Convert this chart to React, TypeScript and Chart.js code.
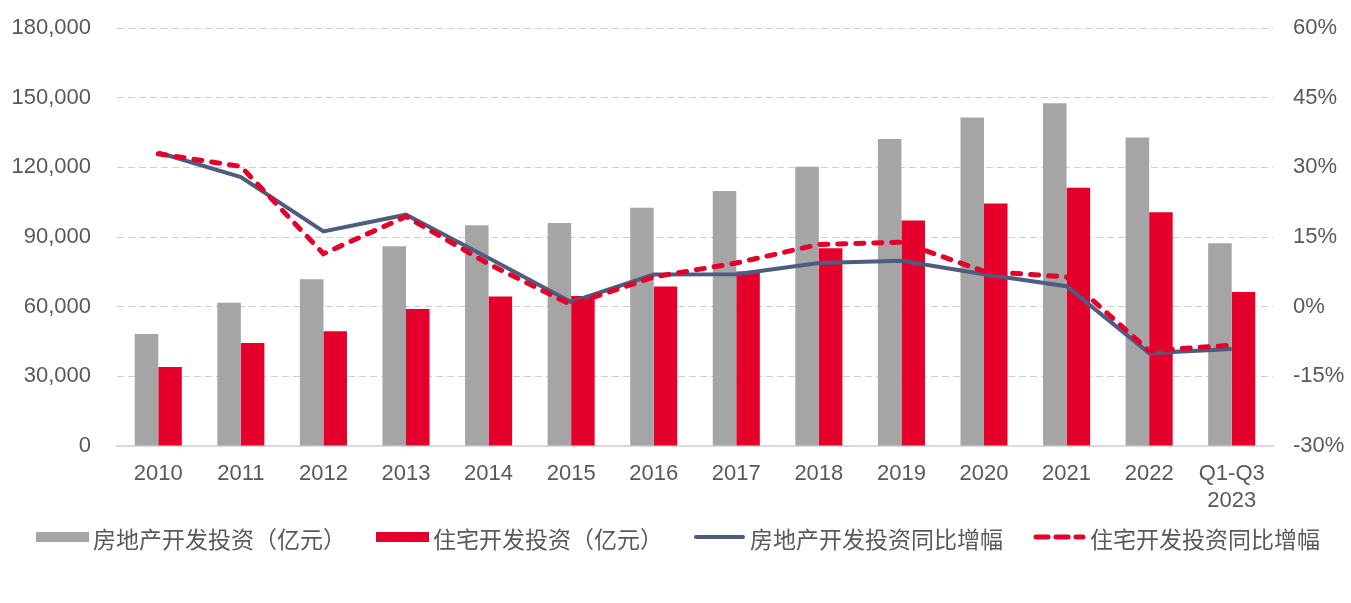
import React, { useEffect, useRef } from "react";
import { Chart, registerables } from "chart.js";

Chart.register(...registerables);

const categories: (string | string[])[] = [
  "2010", "2011", "2012", "2013", "2014", "2015", "2016",
  "2017", "2018", "2019", "2020", "2021", "2022", ["Q1-Q3", "2023"],
];

const realEstateInvestment = [
  48259, 61740, 71804, 86013, 95036, 95979, 102581,
  109799, 120264, 132194, 141443, 147602, 132895, 87269,
];

const residentialInvestment = [
  34038, 44308, 49374, 58951, 64352, 64595, 68704,
  75148, 85192, 97071, 104446, 111173, 100646, 66279,
];

const realEstateGrowth = [
  33.2, 27.9, 16.2, 19.8, 10.5, 1.0, 6.9,
  7.0, 9.4, 9.9, 7.0, 4.4, -10.0, -9.1,
];

const residentialGrowth = [
  32.9, 30.2, 11.4, 19.4, 9.2, 0.4, 6.4,
  9.4, 13.4, 13.9, 7.6, 6.4, -9.5, -8.3,
];

const seriesNames = [
  "房地产开发投资（亿元）",
  "住宅开发投资（亿元）",
  "房地产开发投资同比增幅",
  "住宅开发投资同比增幅",
];

const leftAxis = { min: 0, max: 180000, step: 30000 };
const rightAxis = { min: -30, max: 60, step: 15 };

const GRAY = "#A5A5A5";
const RED = "#E4002B";
const NAVY = "#4E5D7E";
const TEXT = "#595959";
const LATIN = '"Liberation Sans", Arial, sans-serif';
const CJK = '"Noto Sans CJK SC", "Liberation Sans", sans-serif';

const legendPlugin = {
  id: "customLegend",
  afterDraw(chart: any) {
    const ctx = chart.ctx as CanvasRenderingContext2D;
    ctx.save();
    ctx.font = `23px ${CJK}`;
    ctx.textBaseline = "middle";
    ctx.textAlign = "left";
    const cy = 537;
    const boxW = 53;
    let x = 36;
    chart.data.datasets.forEach((ds: any) => {
      if (ds.type === "bar") {
        ctx.fillStyle = ds.backgroundColor;
        ctx.fillRect(x, cy - 5, boxW, 10);
      } else {
        ctx.strokeStyle = ds.borderColor;
        ctx.lineWidth = 5;
        ctx.lineCap = "round";
        if (ds.borderDash && ds.borderDash.length) {
          ctx.setLineDash([12, 8]);
        } else {
          ctx.setLineDash([]);
          ctx.lineWidth = 4;
        }
        ctx.beginPath();
        ctx.moveTo(x + 3, cy);
        ctx.lineTo(x + boxW - 3, cy);
        ctx.stroke();
        ctx.setLineDash([]);
      }
      ctx.fillStyle = TEXT;
      ctx.fillText(ds.label, x + 57, cy + 2);
      x += 57 + ctx.measureText(ds.label).width + 30;
    });
    ctx.restore();
  },
};

const trimVerticalPadding = (s: any) => {
  s.paddingTop = 13;
  s.paddingBottom = 13;
};

export default function App() {
  const canvasRef = useRef<HTMLCanvasElement | null>(null);

  useEffect(() => {
    if (!canvasRef.current) return;
    const chart = new Chart(canvasRef.current, {
      type: "bar",
      data: {
        labels: categories as any,
        datasets: [
          {
            type: "bar",
            label: seriesNames[0],
            data: realEstateInvestment,
            backgroundColor: GRAY,
            yAxisID: "y",
            order: 2,
            categoryPercentage: 0.57,
            barPercentage: 1.0,
          },
          {
            type: "bar",
            label: seriesNames[1],
            data: residentialInvestment,
            backgroundColor: RED,
            yAxisID: "y",
            order: 3,
            categoryPercentage: 0.57,
            barPercentage: 1.0,
          },
          {
            type: "line",
            label: seriesNames[2],
            data: realEstateGrowth,
            borderColor: NAVY,
            backgroundColor: NAVY,
            borderWidth: 4,
            pointRadius: 0,
            tension: 0,
            yAxisID: "y1",
            order: 1,
          },
          {
            type: "line",
            label: seriesNames[3],
            data: residentialGrowth,
            borderColor: RED,
            backgroundColor: RED,
            borderWidth: 5,
            borderDash: [8, 10],
            borderCapStyle: "round",
            pointRadius: 0,
            tension: 0,
            yAxisID: "y1",
            order: 0,
          },
        ] as any,
      },
      options: {
        animation: false,
        responsive: true,
        maintainAspectRatio: false,
        layout: { padding: { top: 28, left: 0, right: 0, bottom: 74 } },
        plugins: {
          legend: { display: false },
          tooltip: { enabled: false },
          title: { display: false },
        },
        scales: {
          x: {
            grid: { display: false, drawTicks: false },
            border: { display: true, color: "#D9D9D9", width: 2 },
            ticks: {
              color: TEXT,
              font: { family: LATIN, size: 22, lineHeight: 1.25 },
              padding: 14,
              maxRotation: 0,
              autoSkip: false,
            },
          },
          y: {
            position: "left",
            min: leftAxis.min,
            max: leftAxis.max,
            grid: {
              color: "#CFCFCF",
              lineWidth: 1,
              drawTicks: false,
            },
            border: { display: false, dash: [7, 4] },
            ticks: {
              stepSize: leftAxis.step,
              color: TEXT,
              font: { family: LATIN, size: 22 },
              padding: 26,
              callback: (v: any) => Number(v).toLocaleString("en-US"),
            },
            afterFit: (s: any) => {
              s.width = 117;
              trimVerticalPadding(s);
            },
          },
          y1: {
            position: "right",
            min: rightAxis.min,
            max: rightAxis.max,
            grid: { display: false, drawTicks: false },
            border: { display: false },
            ticks: {
              stepSize: rightAxis.step,
              color: TEXT,
              font: { family: LATIN, size: 22 },
              padding: 20,
              callback: (v: any) => `${v}%`,
            },
            afterFit: (s: any) => {
              s.width = 78;
              trimVerticalPadding(s);
            },
          },
        },
      } as any,
      plugins: [legendPlugin],
    });
    return () => chart.destroy();
  }, []);

  return (
    <div
      style={{
        position: "absolute",
        left: 0,
        top: 0,
        width: 1351,
        height: 603,
        background: "#ffffff",
      }}
    >
      <canvas ref={canvasRef} />
    </div>
  );
}
